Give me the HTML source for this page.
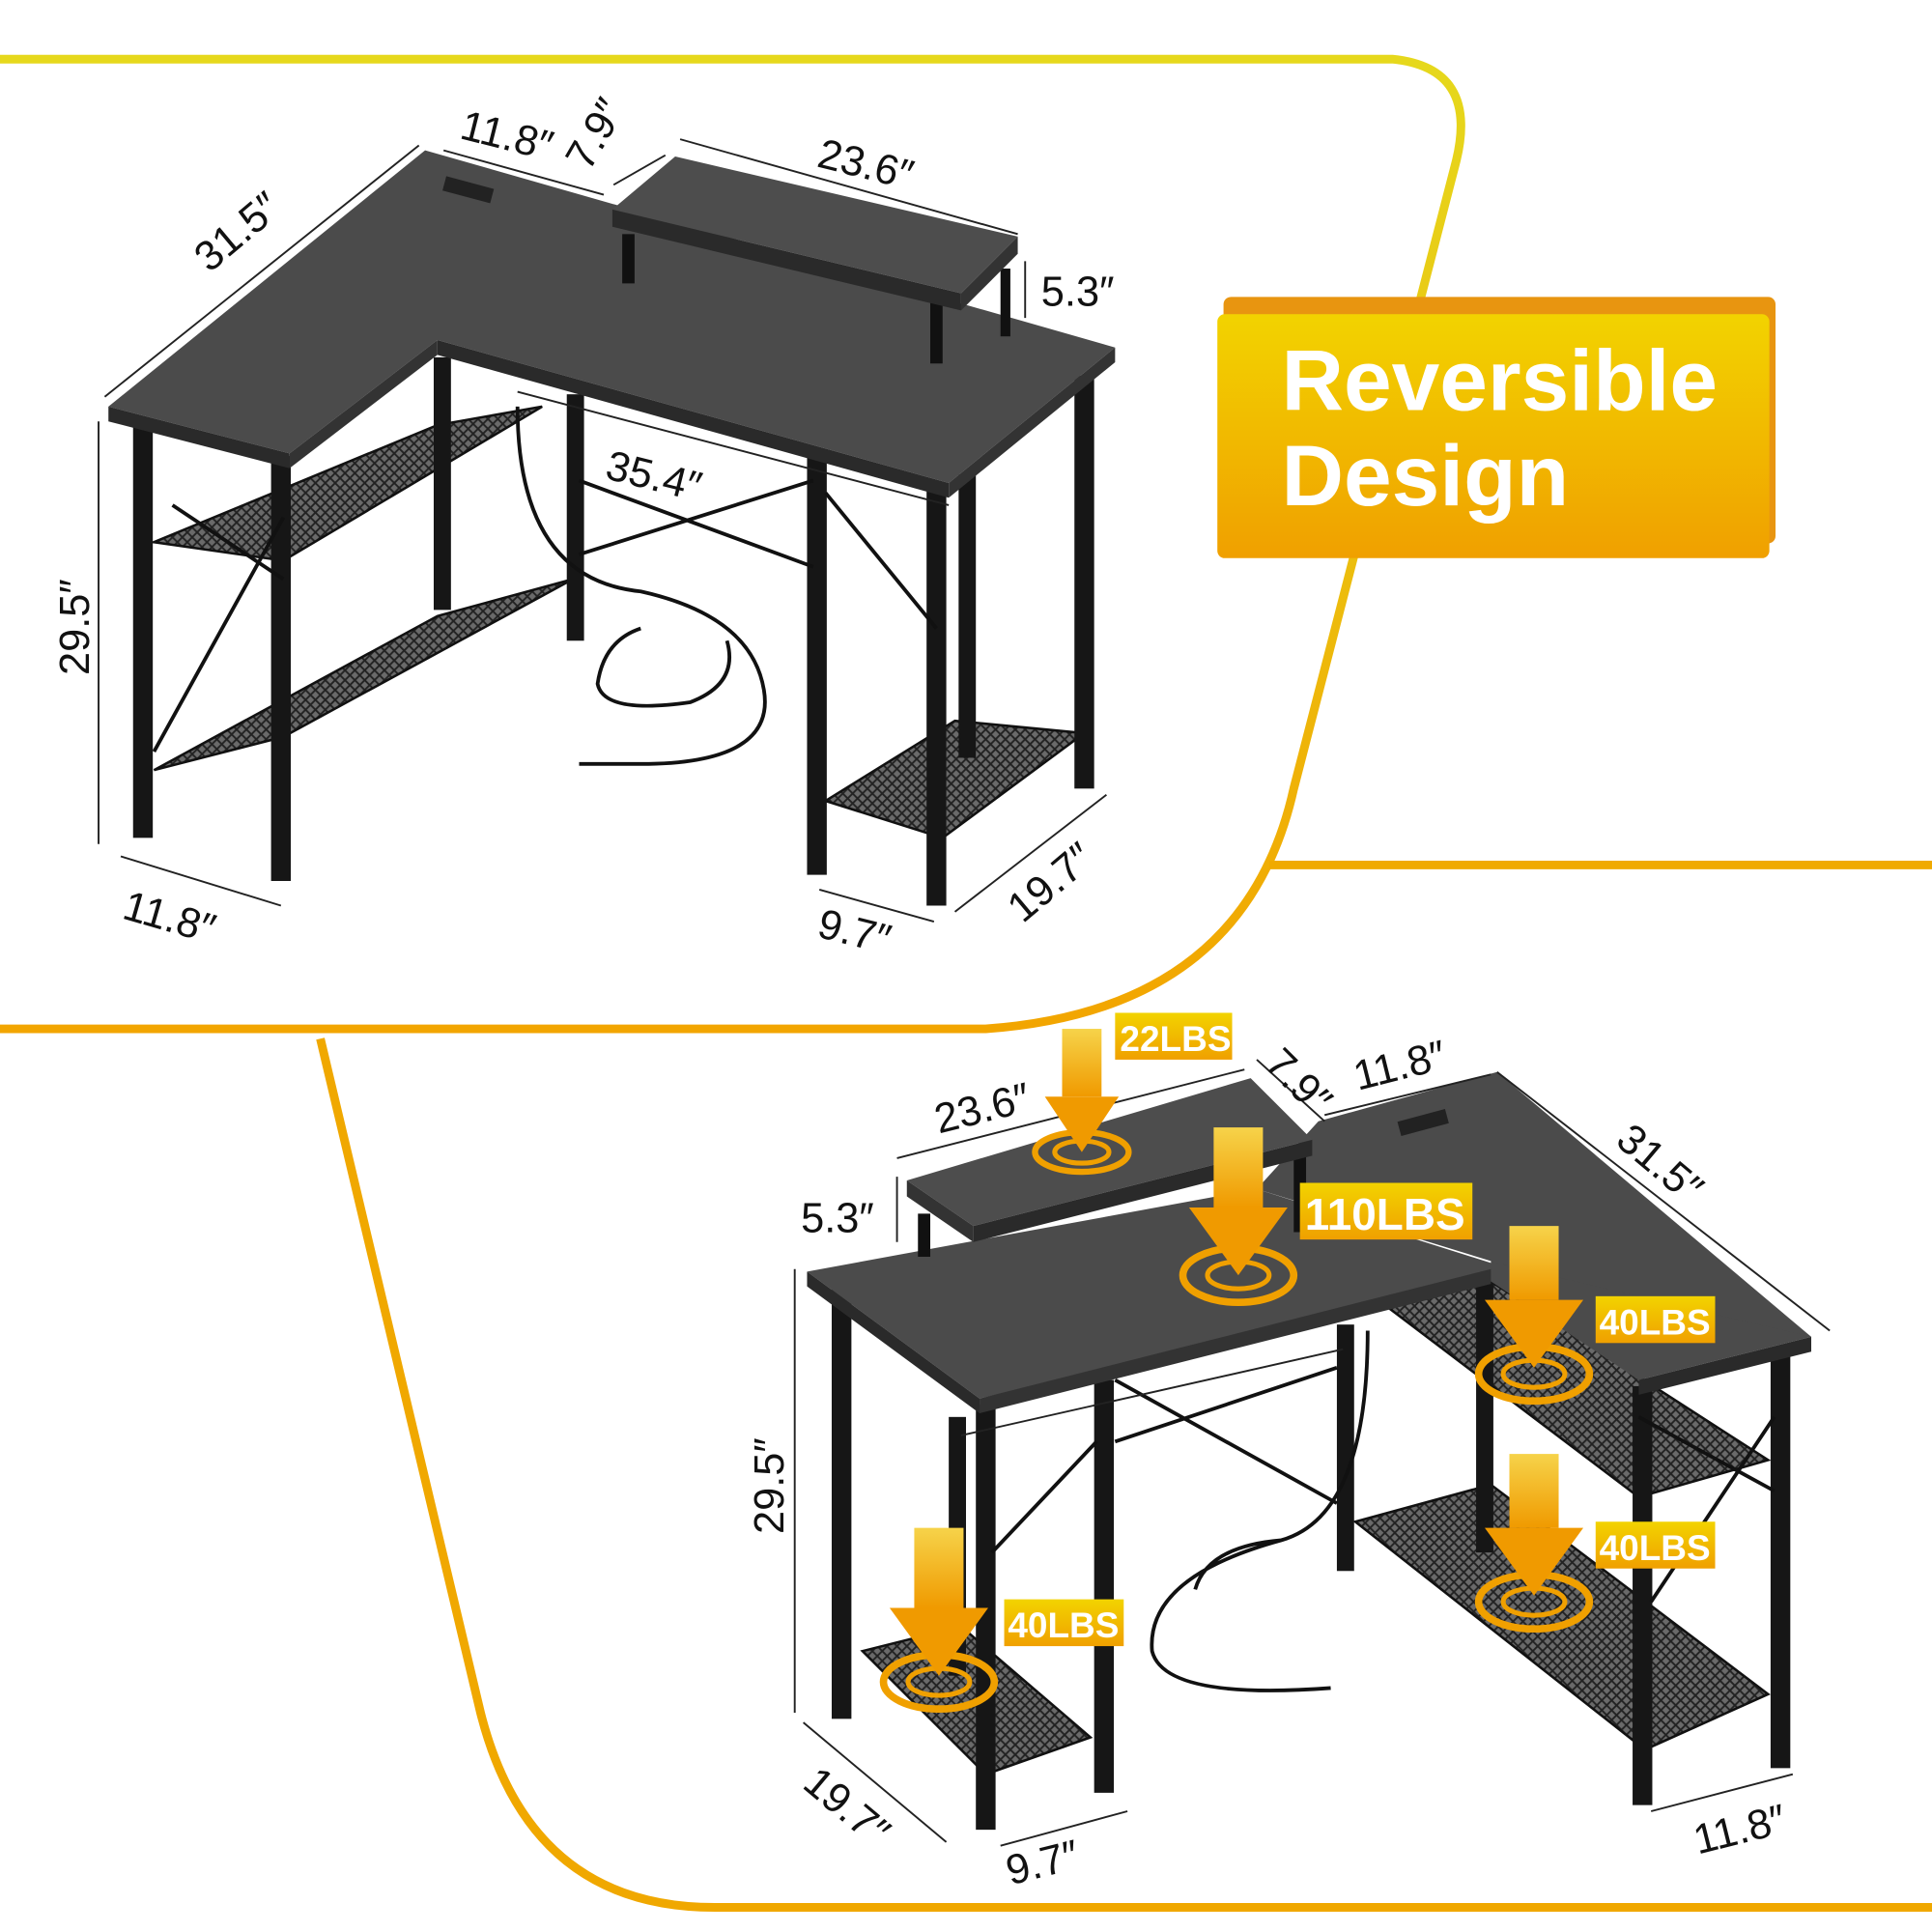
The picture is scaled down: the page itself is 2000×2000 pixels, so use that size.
<!DOCTYPE html>
<html><head><meta charset="utf-8"><style>
html,body{margin:0;padding:0;background:#fff}
svg{display:block}
text{font-family:"Liberation Sans",sans-serif}
</style></head><body>
<svg width="2000" height="2000" viewBox="0 0 1568 1568" xmlns="http://www.w3.org/2000/svg">
<defs>
<linearGradient id="ln" x1="0" y1="0" x2="0" y2="1"><stop offset="0" stop-color="#e6d81c"/><stop offset="1" stop-color="#f2a500"/></linearGradient>
<linearGradient id="bd" x1="0" y1="0" x2="0" y2="1"><stop offset="0" stop-color="#f2d300"/><stop offset="1" stop-color="#f0a000"/></linearGradient>
<linearGradient id="ar" x1="0" y1="0" x2="0" y2="1"><stop offset="0" stop-color="#f6d34a"/><stop offset="1" stop-color="#f09a00"/></linearGradient>
<pattern id="mesh" width="8" height="8" patternUnits="userSpaceOnUse"><rect width="8" height="8" fill="#6a6a6a"/><path d="M0 0L8 8M8 0L0 8" stroke="#222" stroke-width="1.5"/></pattern>
</defs>
<path d="M0 48 H1130 Q1200 55 1182 130 L1050 640 Q1010 820 800 835 H0" fill="none" stroke="url(#ln)" stroke-width="7"/>
<path d="M1030 702 H1568" stroke="#f0aa00" stroke-width="7"/>
<path d="M260 843 L390 1390 Q430 1548 580 1548 H1568" fill="none" stroke="#f0a800" stroke-width="7"/>

<g stroke="#111" stroke-width="2">
<polygon points="125,625 355,500 465,470 230,598" fill="url(#mesh)"/>
<polygon points="125,440 355,345 440,330 230,455" fill="url(#mesh)"/>
<polygon points="670,650 775,585 880,595 765,680" fill="url(#mesh)"/>
</g>
<g fill="#161616">
<rect x="108" y="345" width="16" height="335"/><rect x="220" y="370" width="16" height="345"/>
<rect x="352" y="290" width="14" height="205"/><rect x="460" y="320" width="14" height="200"/>
<rect x="655" y="370" width="16" height="340"/><rect x="752" y="395" width="16" height="340"/>
<rect x="778" y="385" width="14" height="230"/><rect x="872" y="305" width="16" height="335"/>
</g>
<g stroke="#111" stroke-width="3" fill="none">
<path d="M125 610 L230 420 M140 410 L230 470 M470 450 L660 390 M470 390 L660 460 M670 400 L760 510"/>
<path d="M420 330 Q420 470 520 480 Q610 500 620 560 Q630 620 520 620 L470 620 M520 510 Q490 520 485 555 Q490 580 560 570 Q600 555 590 520"/>
</g>
<polygon points="88,330 345,122 905,282 770,392 355,276 235,368" fill="#4b4b4b"/>
<polygon points="88,330 235,368 235,380 88,342" fill="#2a2a2a"/>
<polygon points="235,368 355,276 355,288 235,380" fill="#333"/>
<polygon points="355,276 770,392 770,404 355,288" fill="#2a2a2a"/>
<polygon points="770,392 905,282 905,294 770,404" fill="#333"/>
<rect x="360" y="148" width="40" height="12" fill="#222" transform="rotate(15 380 154)"/>
<rect x="505" y="190" width="10" height="40" fill="#111"/><rect x="755" y="235" width="10" height="60" fill="#111"/><rect x="812" y="218" width="8" height="55" fill="#111"/>
<polygon points="497,170 548,127 826,192 780,238" fill="#4d4d4d"/>
<polygon points="497,170 780,238 780,252 497,184" fill="#2a2a2a"/>
<polygon points="780,238 826,192 826,206 780,252" fill="#333"/>
<g stroke="#222" stroke-width="1.5" fill="none">
<path d="M85 322 L340 118 M360 122 L490 158 M498 150 L540 126 M552 113 L826 190 M832 212 V258 M80 342 V685 M98 695 L228 735 M665 722 L758 748 M775 740 L898 645 M420 318 L770 410"/>
</g>
<g font-size="34" fill="#111">
<text x="170" y="222" transform="rotate(-40 170 222)">31.5″</text>
<text x="372" y="112" transform="rotate(14 372 112)">11.8″</text>
<text x="478" y="140" transform="rotate(-60 478 140)">7.9″</text>
<text x="662" y="135" transform="rotate(14 662 135)">23.6″</text>
<text x="845" y="248">5.3″</text>
<text x="72" y="548" transform="rotate(-90 72 548)">29.5″</text>
<text x="98" y="745" transform="rotate(16 98 745)">11.8″</text>
<text x="490" y="388" transform="rotate(14 490 388)">35.4″</text>
<text x="662" y="760" transform="rotate(14 662 760)">9.7″</text>
<text x="830" y="750" transform="rotate(-40 830 750)">19.7″</text>
</g>

<rect x="993" y="241" width="448" height="200" rx="6" fill="#e89510"/>
<rect x="988" y="255" width="448" height="198" rx="6" fill="url(#bd)"/>
<text x="1040" y="333" font-size="70" font-weight="bold" fill="#fff">Reversible</text>
<text x="1040" y="410" font-size="70" font-weight="bold" fill="#fff">Design</text>

<g stroke="#111" stroke-width="2">
<polygon points="700,1340 780,1320 885,1410 800,1440" fill="url(#mesh)"/>
<polygon points="1100,1235 1210,1205 1435,1375 1335,1420" fill="url(#mesh)"/>
<polygon points="1125,1060 1210,1040 1435,1185 1330,1215" fill="url(#mesh)"/>
</g>
<g fill="#161616">
<rect x="675" y="1040" width="16" height="355"/><rect x="792" y="1140" width="16" height="345"/>
<rect x="770" y="1150" width="14" height="210"/><rect x="888" y="1120" width="16" height="335"/>
<rect x="1085" y="1075" width="14" height="200"/><rect x="1198" y="1040" width="14" height="220"/>
<rect x="1325" y="1125" width="16" height="340"/><rect x="1437" y="1095" width="16" height="340"/>
</g>
<g stroke="#111" stroke-width="3" fill="none">
<path d="M805 1260 L890 1170 M905 1120 L1085 1220 M905 1170 L1085 1110 M1330 1150 L1440 1210 M1340 1300 L1440 1150"/>
<path d="M1110 1080 Q1110 1230 1040 1250 Q930 1280 935 1340 Q945 1380 1080 1370 M1040 1250 Q980 1255 970 1290"/>
</g>
<polygon points="655,1032 1020,965 1210,1025 1215,898 1470,1085 1330,1120 1210,1040 795,1135" fill="#4b4b4b"/>
<polygon points="1020,965 1070,910 1215,870 1470,1085 1215,1025" fill="#4b4b4b"/>
<polygon points="655,1032 795,1135 795,1147 655,1044" fill="#2a2a2a"/>
<polygon points="795,1135 1210,1030 1210,1042 795,1147" fill="#333"/>
<polygon points="1330,1120 1470,1085 1470,1097 1330,1132" fill="#2a2a2a"/>
<rect x="1135" y="905" width="40" height="12" fill="#222" transform="rotate(-15 1155 911)"/>
<rect x="745" y="985" width="10" height="35" fill="#111"/><rect x="1050" y="930" width="10" height="70" fill="#111"/>
<polygon points="736,958 1015,875 1065,925 790,995" fill="#4d4d4d"/>
<polygon points="736,958 790,995 790,1008 736,971" fill="#333"/>
<polygon points="790,995 1065,925 1065,938 790,1008" fill="#2a2a2a"/>
<g stroke="#222" stroke-width="1.5" fill="none">
<path d="M728 940 L1010 868 M728 955 V1008 M645 1030 V1390 M652 1398 L768 1495 M812 1498 L915 1470 M1340 1470 L1455 1440 M1215 870 L1485 1080 M1020 860 L1075 910 M1075 905 L1210 872 M780 1165 L1090 1095"/>
</g>
<g font-size="34" fill="#111">
<text x="762" y="920" transform="rotate(-14 762 920)">23.6″</text>
<text x="650" y="1000">5.3″</text>
<text x="636" y="1245" transform="rotate(-90 636 1245)">29.5″</text>
<text x="650" y="1450" transform="rotate(40 650 1450)">19.7″</text>
<text x="820" y="1530" transform="rotate(-14 820 1530)">9.7″</text>
<text x="1378" y="1505" transform="rotate(-14 1378 1505)">11.8″</text>
<text x="1310" y="928" transform="rotate(40 1310 928)">31.5″</text>
<text x="1025" y="865" transform="rotate(45 1025 865)">7.9″</text>
<text x="1102" y="885" transform="rotate(-14 1102 885)">11.8″</text>
</g>
<g>
<g transform="translate(878,835)"><ellipse cx="0" cy="100" rx="38" ry="16" fill="none" stroke="#f0a000" stroke-width="5"/><ellipse cx="0" cy="100" rx="22" ry="9" fill="none" stroke="#f0a000" stroke-width="4"/><rect x="-16" y="0" width="32" height="55" fill="url(#ar)"/><polygon points="-30,55 30,55 0,100" fill="#f09a00"/></g>
<g transform="translate(1005,915)"><ellipse cx="0" cy="120" rx="45" ry="22" fill="none" stroke="#f0a000" stroke-width="6"/><ellipse cx="0" cy="120" rx="25" ry="11" fill="none" stroke="#f0a000" stroke-width="4"/><rect x="-20" y="0" width="40" height="65" fill="url(#ar)"/><polygon points="-40,65 40,65 0,120" fill="#f09a00"/></g>
<g transform="translate(1245,995)"><ellipse cx="0" cy="120" rx="45" ry="22" fill="none" stroke="#f0a000" stroke-width="6"/><ellipse cx="0" cy="120" rx="25" ry="11" fill="none" stroke="#f0a000" stroke-width="4"/><rect x="-20" y="0" width="40" height="60" fill="url(#ar)"/><polygon points="-40,60 40,60 0,115" fill="#f09a00"/></g>
<g transform="translate(1245,1180)"><ellipse cx="0" cy="120" rx="45" ry="22" fill="none" stroke="#f0a000" stroke-width="6"/><ellipse cx="0" cy="120" rx="25" ry="11" fill="none" stroke="#f0a000" stroke-width="4"/><rect x="-20" y="0" width="40" height="60" fill="url(#ar)"/><polygon points="-40,60 40,60 0,115" fill="#f09a00"/></g>
<g transform="translate(762,1240)"><ellipse cx="0" cy="125" rx="45" ry="22" fill="none" stroke="#f0a000" stroke-width="6"/><ellipse cx="0" cy="125" rx="25" ry="11" fill="none" stroke="#f0a000" stroke-width="4"/><rect x="-20" y="0" width="40" height="65" fill="url(#ar)"/><polygon points="-40,65 40,65 0,120" fill="#f09a00"/></g>
</g>
<g font-weight="bold" fill="#fff">
<rect x="905" y="822" width="95" height="38" fill="url(#bd)"/><text x="909" y="853" font-size="29">22LBS</text>
<rect x="1055" y="960" width="140" height="46" fill="url(#bd)"/><text x="1059" y="998" font-size="36">110LBS</text>
<rect x="1295" y="1052" width="97" height="38" fill="url(#bd)"/><text x="1298" y="1083" font-size="29">40LBS</text>
<rect x="1295" y="1235" width="97" height="38" fill="url(#bd)"/><text x="1298" y="1266" font-size="29">40LBS</text>
<rect x="815" y="1298" width="97" height="38" fill="url(#bd)"/><text x="818" y="1329" font-size="29">40LBS</text>
</g>
</svg>
</body></html>
